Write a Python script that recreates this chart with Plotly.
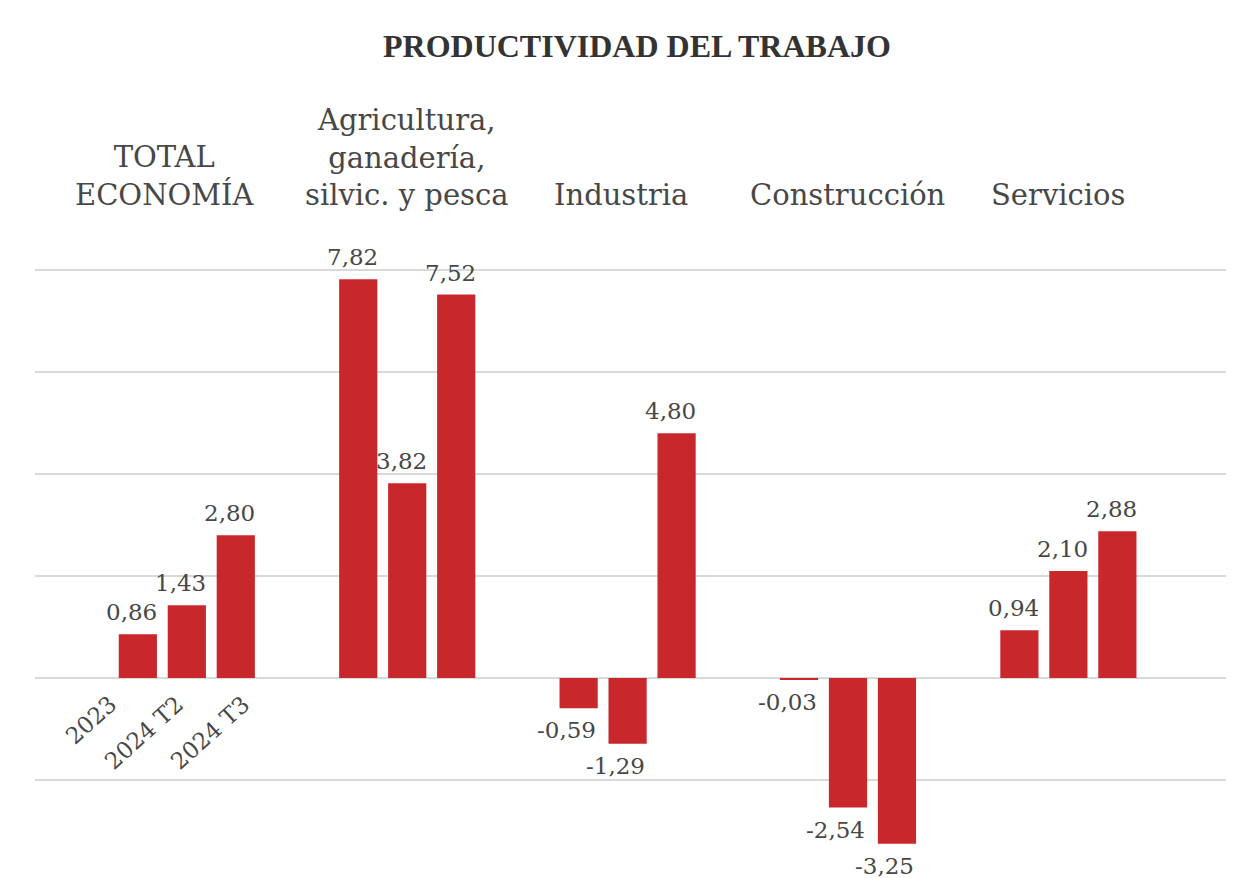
import plotly.graph_objects as go

sectors = ["TOTAL<br>ECONOMÍA", "Agricultura,<br>ganadería,<br>silvic. y pesca",
           "Industria", "Construcción", "Servicios"]
periods = ["2023", "2024 T2", "2024 T3"]
values = [
    [0.86, 1.43, 2.80],
    [7.82, 3.82, 7.52],
    [-0.59, -1.29, 4.80],
    [-0.03, -2.54, -3.25],
    [0.94, 2.10, 2.88],
]

GROUP_STEP = 4.5
xs, ys = [], []
for g, vals in enumerate(values):
    for i, v in enumerate(vals):
        xs.append(g * GROUP_STEP + i)
        ys.append(v)

FONT = "DejaVu Serif"
TXT = "#474747"
RED = "#c8272c"

fig = go.Figure(go.Bar(
    x=xs, y=ys, width=0.78,
    marker=dict(color=RED, line=dict(width=0)),
    hoverinfo="skip",
))

annotations = []
for x, v in zip(xs, ys):
    pos = v >= 0
    annotations.append(dict(
        x=x, y=v, xref="x", yref="y",
        text=f"{v:.2f}".replace(".", ","),
        showarrow=False, xanchor="center",
        yanchor="bottom" if pos else "top",
        yshift=7 if pos else -7, xshift=-6 if pos else -12,
        font=dict(family=FONT, size=23, color=TXT),
    ))

header_shift = [-22, 0, -7, 0, -10]
for g, name in enumerate(sectors):
    annotations.append(dict(
        x=g * GROUP_STEP + 1, y=1, xref="x", yref="paper",
        yshift=26, xshift=header_shift[g], yanchor="bottom", xanchor="center",
        text=name, showarrow=False,
        font=dict(family=FONT, size=29, color=TXT),
    ))
for i, p in enumerate(periods):
    annotations.append(dict(
        x=-0.27 + i * 1.35, y=0, xref="x", yref="y",
        yshift=-10, xanchor="right", yanchor="top",
        text=p, textangle=-42, showarrow=False,
        font=dict(family=FONT, size=23, color=TXT),
    ))

fig.update_layout(
    width=1226, height=870,
    margin=dict(l=27, r=4, t=232, b=0),
    paper_bgcolor="white", plot_bgcolor="white",
    showlegend=False,
    title=dict(text="<b>PRODUCTIVIDAD DEL TRABAJO</b>", x=0.513, xanchor="center",
               y=0.957, yanchor="middle",
               font=dict(family="Liberation Serif", size=32, color="#333333")),
    xaxis=dict(range=[-2.1, 22.3], showgrid=False, showticklabels=False,
               zeroline=False, showline=False, ticks=""),
    yaxis=dict(range=[-3.92, 8.59], dtick=2, tick0=0, showgrid=True,
               gridcolor="#d9d9d9", gridwidth=2, zeroline=True,
               zerolinecolor="#d9d9d9", zerolinewidth=2,
               showticklabels=False, ticks="", showline=False),
    annotations=annotations,
)

fig.write_html("out.html")
